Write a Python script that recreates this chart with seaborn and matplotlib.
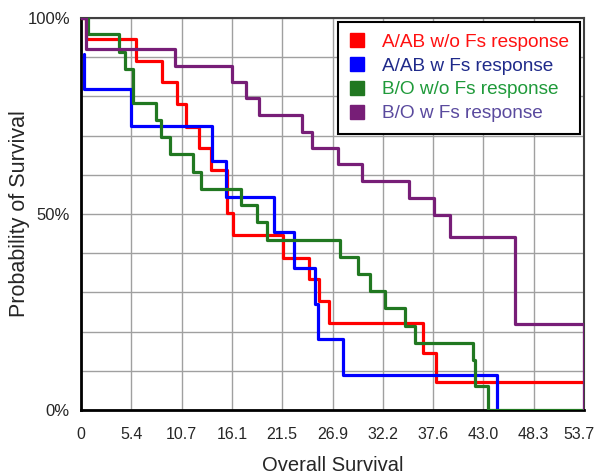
import matplotlib
matplotlib.use("Agg")
import matplotlib.pyplot as plt
import matplotlib.transforms as mtransforms
import pandas as pd
import seaborn as sns
from matplotlib.lines import Line2D

# Kaplan-Meier step values (time, survival %)
red_t = [0, 0.5, 5.87, 8.68, 10.2, 11.17, 12.63, 13.9, 15.6, 16.2, 21.6, 24.3, 25.4, 26.5, 36.5, 37.9, 53.7]
red_s = [100, 94.6, 89.1, 83.8, 78.0, 72.3, 66.9, 61.2, 50.2, 44.6, 38.9, 33.3, 27.8, 22.1, 14.5, 7.1, 7.1]

blue_t = [0.3, 0.32, 5.3, 14.0, 15.5, 20.6, 22.7, 25.0, 25.3, 28.0, 44.4]
blue_s = [90.9, 81.8, 72.5, 63.4, 54.4, 45.3, 36.1, 27.0, 18.0, 8.9, 0]

green_t = [0, 0.7, 4.06, 4.7, 5.6, 7.97, 8.54, 9.5, 12.0, 12.8, 17.1, 18.8, 19.9, 27.7, 29.6,
           30.9, 32.5, 34.6, 35.7, 41.8, 42.1, 43.4, 53.7]
green_s = [100, 95.9, 91.4, 87.0, 78.4, 74.0, 69.7, 65.3, 60.8, 56.4, 52.3, 47.9, 43.4, 39.0, 34.7,
           30.4, 25.9, 21.5, 17.2, 12.8, 6.2, 0, 0]

purple_t = [0, 0.5, 10.0, 16.15, 17.6, 19.0, 23.6, 24.7, 27.4, 30.0, 35.0, 37.7, 39.4, 46.3, 53.7]
purple_s = [100, 92.0, 87.8, 83.8, 79.5, 75.3, 71.0, 66.8, 62.7, 58.4, 54.2, 49.7, 44.2, 21.9, 0]

groups = ["A/AB w/o Fs response", "A/AB w Fs response", "B/O w/o Fs response", "B/O w Fs response"]
line_colors = ["#ff0000", "#0000ff", "#217821", "#771e77"]
text_colors = ["#ff1010", "#1f2a8a", "#1f9a3a", "#5a4a9e"]

x_ticks = [0, 5.37, 10.74, 16.11, 21.48, 26.85, 32.22, 37.59, 42.96, 48.33, 53.7]
x_labels = ["0", "5.4", "10.7", "16.1", "21.5", "26.9", "32.2", "37.6", "43.0", "48.3", "53.7"]

frames = []
for name, t, s in zip(groups, [red_t, blue_t, green_t, purple_t], [red_s, blue_s, green_s, purple_s]):
    frames.append(pd.DataFrame({"time": t, "surv": s, "group": name}))
df = pd.concat(frames, ignore_index=True)

sns.set_style("white")
plt.rcParams["font.family"] = ["Liberation Sans", "DejaVu Sans"]

fig = plt.figure(figsize=(5.97, 4.75), dpi=100)
ax = fig.add_axes([81 / 597, 65 / 475, 503 / 597, 392 / 475])

sns.lineplot(data=df, x="time", y="surv", hue="group", palette=line_colors, hue_order=groups,
             estimator=None, sort=False, drawstyle="steps-post", linewidth=2.3, ax=ax,
             legend=False, zorder=3)

ax.set_xlim(0, 53.7)
ax.set_ylim(0, 100)
ax.set_xticks(x_ticks)
ax.set_xticklabels(x_labels, fontsize=11.5)
ax.set_yticks([0, 50, 100])
ax.set_yticklabels(["0%", "50%", "100%"], fontsize=12)
ax.set_yticks(range(0, 101, 10), minor=True)
ax.tick_params(axis="both", which="both", length=0)
ax.tick_params(axis="x", pad=12)
ax.tick_params(axis="y", pad=8)

# keep the last x label inside the canvas
last = ax.get_xticklabels()[-1]
last.set_transform(last.get_transform() + mtransforms.ScaledTranslation(-4 / 72, 0, fig.dpi_scale_trans))

ax.grid(True, which="both", color="#a0a0a0", linewidth=1.0)
ax.set_axisbelow(True)

for side in ["left", "bottom"]:
    ax.spines[side].set_color("black")
    ax.spines[side].set_linewidth(2)
for side in ["top", "right"]:
    ax.spines[side].set_color("#404040")
    ax.spines[side].set_linewidth(1.5)

ax.set_xlabel("Overall Survival", fontsize=14.5, labelpad=10)
ax.set_ylabel("Probability of Survival", fontsize=15.5, labelpad=-2)

handles = [Line2D([], [], marker="s", linestyle="none", markersize=10, color=c) for c in line_colors]
leg = ax.legend(handles, groups, loc="upper right", fontsize=13.7, frameon=True, fancybox=False,
                framealpha=1, edgecolor="black", borderaxespad=0.2, handlelength=0.8,
                handletextpad=0.9, labelspacing=0.35, borderpad=0.6)
leg.get_frame().set_linewidth(1.5)
for txt, c in zip(leg.get_texts(), text_colors):
    txt.set_color(c)

fig.savefig("out.png", dpi=100)
